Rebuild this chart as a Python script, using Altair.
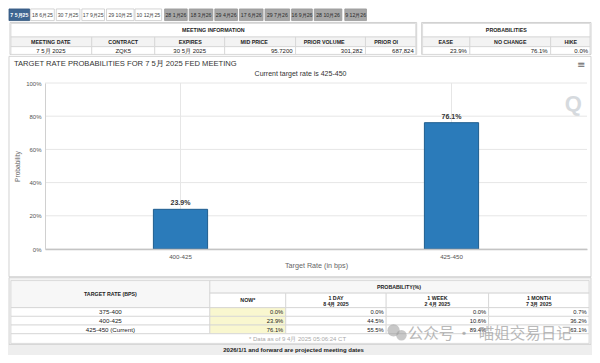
import altair as alt
import pandas as pd

# ---------------- data ----------------
tab_labels = ["7 5月25", "18 6月25", "30 7月25", "17 9月25", "29 10月25", "10 12月25",
              "28 1月26", "18 3月26", "29 4月26", "17 6月26", "29 7月26", "16 9月26",
              "28 10月26", "9 12月26"]
tab_group = ["current"] + ["2025"] * 5 + ["2026"] * 8

meeting_headers = ["MEETING DATE", "CONTRACT", "EXPIRES", "MID PRICE", "PRIOR VOLUME", "PRIOR OI"]
meeting_values = ["7 5月 2025", "ZQK5", "30 5月 2025", "95.7200", "301,282", "687,824"]
summary_headers = ["EASE", "NO CHANGE", "HIKE"]
summary_values = [23.9, 76.1, 0.0]

meeting_label = "7 5月 2025"
current_target = "425-450"
rate_buckets = ["400-425", "425-450"]
probabilities = [23.9, 76.1]
y_ticks = [0, 20, 40, 60, 80, 100]

table_rates = ["375-400", "400-425", "425-450 (Current)"]
prob_now = [0.0, 23.9, 76.1]
prob_1day = [0.0, 44.5, 55.5]
prob_1week = [0.0, 10.6, 89.4]
prob_1month = [0.7, 36.2, 63.1]
period_names = ["NOW*", "1 DAY", "1 WEEK", "1 MONTH"]
period_dates = ["", "8 4月 2025", "2 4月 2025", "7 3月 2025"]
data_timestamp = "9 4月 2025 05:06:24 CT"
projected_note = "2026/1/1 and forward are projected meeting dates"
watermark = ["公众号", "·", "喵姐交易日记"]

# ---------------- layout (reference pixel frame) ----------------
RX0, RX1 = 4, 597      # reference x range shown
RY0, RY1 = 3, 362      # reference y range shown
SX, SY = 584 / (RX1 - RX0), 347 / (RY1 - RY0)
PAD_L, PAD_T = 37, 75
W, H = 542, 166
PAD_R = 584 - PAD_L - W
PAD_B = 347 - PAD_T - H

FONT = "Liberation Sans Narrow, Liberation Sans, Arial, sans-serif"
FONT_REG = "Liberation Sans, Arial, sans-serif"
CJK = "Noto Sans CJK SC"

xpage = alt.Scale(domain=[RX0, RX1], range=[-PAD_L, 584 - PAD_L], zero=False, nice=False)
ypage = alt.Scale(domain=[RY0, RY1], range=[-PAD_T, 347 - PAD_T], zero=False, nice=False)

rect_rows = []


def add_rect(x0, x1, y0, y1, fill, stroke="transparent"):
    rect_rows.append(dict(x0=x0, x1=x1, y0=y0, y1=y1, fill=fill, stroke=stroke))


text_rows = {}


def add_text(style, x, y, text, color="#222222"):
    text_rows.setdefault(style, []).append(dict(x=x, y=y, text=text, color=color))


STYLES = {
    "tab": dict(fontSize=5.2, align="center", font=FONT),
    "tabb": dict(fontSize=5.2, fontWeight="bold", align="center", font=FONT),
    "hdr": dict(fontSize=5.3, fontWeight="bold", align="center", font=FONT),
    "val": dict(fontSize=6.0, align="center", font=FONT),
    "valr": dict(fontSize=6.0, align="right", font=FONT),
    "tval": dict(fontSize=6.2, align="center", font=FONT),
    "tvalr": dict(fontSize=5.8, align="right", font=FONT),
    "foot": dict(fontSize=6.0, align="center", font=FONT),
    "note": dict(fontSize=6.0, fontWeight="bold", align="center", font=FONT),
    "title": dict(fontSize=7.6, align="left", font=FONT),
    "sub": dict(fontSize=7.0, align="center", font=FONT),
    "menu": dict(fontSize=10, align="center", font="DejaVu Sans"),
    "q": dict(fontSize=22, fontWeight="bold", align="center", font=FONT_REG),
    "wm": dict(fontSize=15.5, align="left", font=CJK, opacity=0.6),
    "wmc": dict(fontSize=15.5, align="center", font=CJK, opacity=0.6),
}

# page background piece under the bottom table
add_rect(0, 600, 351, 363, "#eeeeee")

# tabs
tab_x0 = [5, 27, 53, 79, 104, 133, 163, 188, 214, 239, 265, 292, 315, 346]
tab_x1 = [26, 51, 77, 102, 132, 160, 186, 212, 237, 263, 290, 313, 343, 368]
tab_fill = {"current": "#3d6591", "2025": "#ffffff", "2026": "#a6a6a6"}
tab_stroke = {"current": "#35587f", "2025": "#c9c9c9", "2026": "#999999"}
tab_text = {"current": "#ffffff", "2025": "#444444", "2026": "#2a2a2a"}
for lab, g, a, b in zip(tab_labels, tab_group, tab_x0, tab_x1):
    add_rect(a, b, 4, 16, tab_fill[g], tab_stroke[g])
    add_text("tabb" if g == "current" else "tab", (a + b) / 2, 10.2, lab, tab_text[g])


def info_box(bounds, title, headers, values, aligns, header_x=None):
    x0, x1 = bounds[0], bounds[-1]
    add_rect(x0, x1, 18, 51, "#ffffff", "#c6c6c6")
    add_rect(x0 + 1, x1 - 1, 19, 33, "#ffffff", "#d4d4d4")
    add_text("hdr", (x0 + x1) / 2, 25.8, title)
    for i, (h, v, al) in enumerate(zip(headers, values, aligns)):
        a, b = bounds[i], bounds[i + 1]
        a2 = a + 1 if i == 0 else a
        b2 = b - 1 if i == len(headers) - 1 else b
        add_rect(a2, b2, 33, 43, "#f3f3f3", "#d4d4d4")
        add_rect(a2, b2, 43, 51, "#ffffff", "#d4d4d4")
        hx = header_x[i] if header_x else (a + b) / 2
        add_text("hdr", hx, 38.2, h)
        if al == "c":
            add_text("val", (a + b) / 2, 47.3, v)
        else:
            add_text("valr", b - 3, 47.3, v)


info_box([6, 89, 153, 224, 296, 367, 419], "MEETING INFORMATION", meeting_headers,
         meeting_values, ["c", "c", "c", "r", "r", "r"],
         header_x=[47.5, 121, 189, 254, 325, 388])
info_box([424, 473, 555, 596], "PROBABILITIES", summary_headers,
         [f"{v:.1f}%" for v in summary_values], ["r", "r", "r"])

# chart panel
add_rect(5, 596, 53, 281, "#ffffff", "#c8c8c8")
add_text("title", 10, 60.5, f"TARGET RATE PROBABILITIES FOR {meeting_label} FED MEETING", "#333333")
add_text("sub", 301, 71, f"Current target rate is {current_target}", "#333333")
add_text("menu", 586, 61.5, "≡", "#666666")
add_text("q", 578, 102, "Q", "#d6dade")

# bottom probability table
add_rect(5, 596, 282, 351, "#f3f3f3", "#cccccc")
add_rect(7, 209, 285, 313, "#f7f7f7", "#d4d4d4")
add_rect(209, 594, 285, 298, "#f7f7f7", "#d4d4d4")
col_b = [209, 286, 388, 492, 594]
for i in range(4):
    add_rect(col_b[i], col_b[i + 1], 298, 313, "#ffffff", "#d4d4d4")
add_text("hdr", 108, 299, "TARGET RATE (BPS)")
add_text("hdr", 401, 291.5, "PROBABILITY(%)")
for i, (nm, dt) in enumerate(zip(period_names, period_dates)):
    cx = (col_b[i] + col_b[i + 1]) / 2
    if dt:
        add_text("hdr", cx, 302.6, nm)
        add_text("hdr", cx, 309, dt)
    else:
        add_text("hdr", cx, 305.5, nm)

row_y = [313, 322, 331, 340]
series = [prob_now, prob_1day, prob_1week, prob_1month]
for r, rate in enumerate(table_rates):
    y0, y1 = row_y[r], row_y[r + 1]
    add_rect(7, 209, y0, y1, "#ffffff", "#d4d4d4")
    add_text("tval", 108, (y0 + y1) / 2 + 0.3, rate)
    for i in range(4):
        fill = "#f9f7cf" if i == 0 else "#ffffff"
        add_rect(col_b[i], col_b[i + 1], y0, y1, fill, "#d4d4d4")
        add_text("tvalr", col_b[i + 1] - 2.5, (y0 + y1) / 2 + 0.3, f"{series[i][r]:.1f}%")
add_rect(7, 594, 340, 350, "#ffffff", "#d4d4d4")
add_text("foot", 298, 345, f"* Data as of {data_timestamp}", "#aaaaaa")
add_text("note", 294, 356.8, projected_note, "#222222")

# watermark
add_text("wm", 410, 340, watermark[0], "#8c8c8c")
add_text("wmc", 467, 340, watermark[1], "#8c8c8c")
add_text("wm", 482, 340, watermark[2], "#8c8c8c")

# ---------------- layers ----------------
layers = []
rect_df = pd.DataFrame(rect_rows)
layers.append(
    alt.Chart(rect_df).mark_rect(strokeWidth=0.8).encode(
        x=alt.X("x0:Q", scale=xpage, axis=None),
        x2="x1:Q",
        y=alt.Y("y0:Q", scale=ypage, axis=None),
        y2="y1:Q",
        fill=alt.Fill("fill:N", scale=None),
        stroke=alt.Stroke("stroke:N", scale=None),
    )
)

icon_df = pd.DataFrame({"x": [395.5, 403.5], "y": [336.5, 341.5], "s": [150, 110]})
layers.append(
    alt.Chart(icon_df).mark_circle(color="#9a9a9a", opacity=0.55).encode(
        x=alt.X("x:Q", scale=xpage, axis=None),
        y=alt.Y("y:Q", scale=ypage, axis=None),
        size=alt.Size("s:Q", scale=None),
    )
)

for style, rows in text_rows.items():
    df = pd.DataFrame(rows)
    layers.append(
        alt.Chart(df).mark_text(baseline="middle", **STYLES[style]).encode(
            x=alt.X("x:Q", scale=xpage, axis=None),
            y=alt.Y("y:Q", scale=ypage, axis=None),
            text="text:N",
            color=alt.Color("color:N", scale=None),
        )
    )

xband = alt.Scale(domain=rate_buckets, paddingInner=0.8, paddingOuter=0.4)
yprob = alt.Scale(domain=[0, 100], nice=False, zero=True)

bars_df = pd.DataFrame({"rate": rate_buckets, "prob": probabilities})
bars_df["label"] = [f"{v:.1f}%" for v in probabilities]
grid_df = pd.DataFrame({"t": y_ticks})

layers.append(
    alt.Chart(grid_df).mark_rule(color="#e6e6e6", strokeWidth=1).encode(
        y=alt.Y("t:Q", scale=yprob, axis=None),
        x=alt.value(0),
        x2=alt.value(W),
    )
)
layers.append(
    alt.Chart(bars_df).mark_rule(color="#e6e6e6", strokeWidth=1).encode(
        x=alt.X("rate:N", scale=xband, axis=None),
        y=alt.value(0),
        y2=alt.value(H),
    )
)
layers.append(
    alt.Chart(bars_df).mark_bar(color="#2b7bba", stroke="#1f5d8f", strokeWidth=1).encode(
        x=alt.X("rate:N", scale=xband, sort=rate_buckets,
                axis=alt.Axis(orient="bottom", title="Target Rate (in bps)", labelAngle=0,
                              ticks=False, grid=False, domainColor="#c4c4c4", domainWidth=1.3,
                              labelFont=FONT, labelFontSize=6.2, labelColor="#555555",
                              labelPadding=4, titleFont=FONT, titleFontSize=7.2,
                              titleFontWeight="normal", titleColor="#666666", titlePadding=2,
                              zindex=1)),
        y=alt.Y("prob:Q", scale=yprob,
                axis=alt.Axis(orient="left", title="Probability", values=y_ticks,
                              labelExpr="datum.value + '%'", ticks=False, grid=False,
                              domainColor="#d0d0d0", labelFont=FONT, labelFontSize=6.0,
                              labelColor="#555555", labelPadding=4, titleFont=FONT_REG,
                              titleFontSize=6.6, titleFontWeight="normal",
                              titleColor="#666666", titlePadding=5, zindex=1)),
    )
)
layers.append(
    alt.Chart(bars_df).mark_text(baseline="bottom", dy=-3, fontSize=7.0, fontWeight="bold",
                                 color="#333333", font=FONT).encode(
        x=alt.X("rate:N", scale=xband, axis=None),
        y=alt.Y("prob:Q", scale=yprob, axis=None),
        text="label:N",
    )
)

chart = (
    alt.layer(*layers)
    .resolve_scale(x="independent", y="independent")
    .properties(
        width=W,
        height=H,
        padding={"left": PAD_L, "top": PAD_T, "right": PAD_R, "bottom": PAD_B},
        autosize=alt.AutoSizeParams(type="none"),
        background="#ffffff",
    )
    .configure_view(stroke="transparent")
)

chart.save("out.html", embed_options={"renderer": "svg", "actions": False})
